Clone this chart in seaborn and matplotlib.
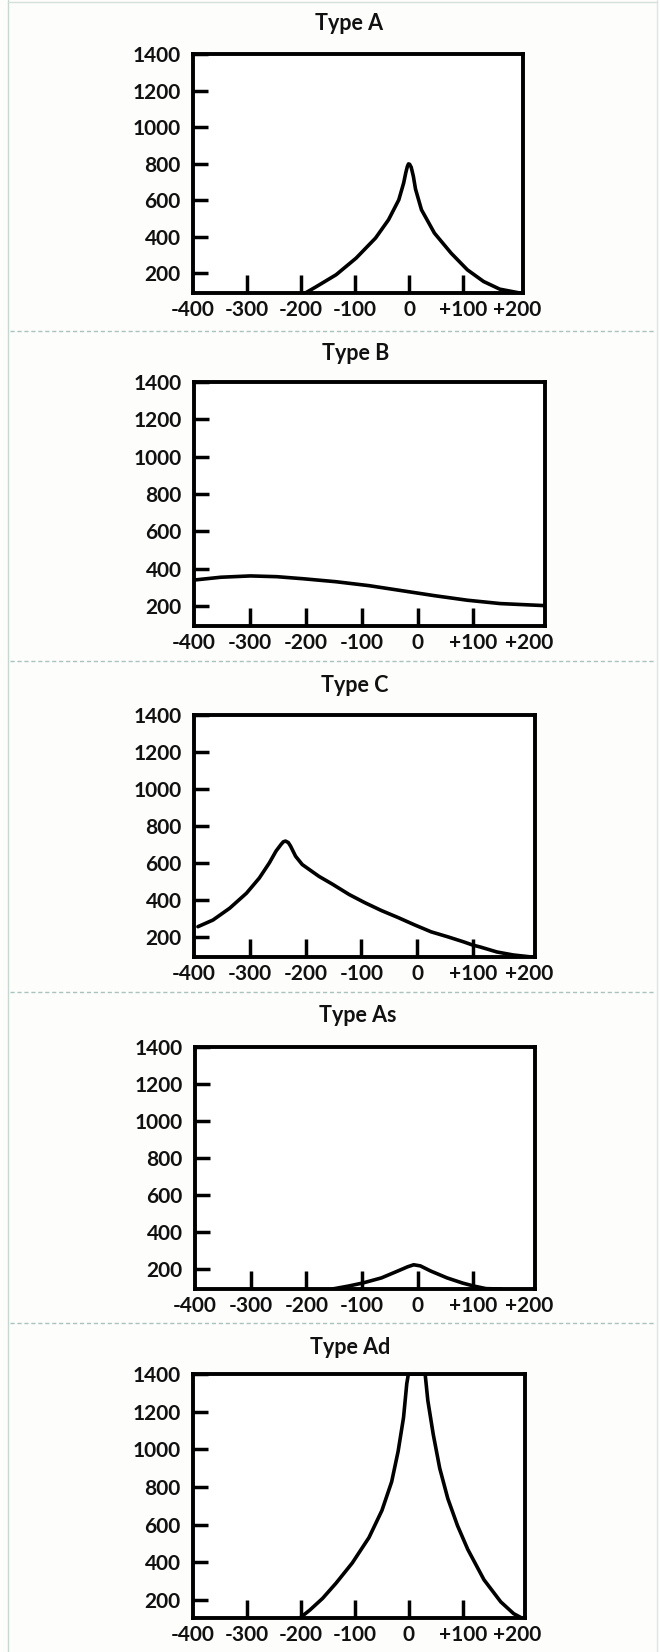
import matplotlib
matplotlib.use("Agg")
import matplotlib.pyplot as plt
import pandas as pd
import seaborn as sns
from matplotlib.ticker import FixedLocator, FixedFormatter, NullFormatter
from matplotlib.lines import Line2D

sns.set_theme(style="white")
plt.rcParams["font.family"] = ["Lato", "DejaVu Sans"]

# Tympanogram types: ear-canal pressure (daPa) vs compliance
type_names = ["Type A", "Type B", "Type C", "Type As", "Type Ad"]

pressure_labels = ["-400", "-300", "-200", "-100", "0", "+100", "+200"]
pressure_values = [-400, -300, -200, -100, 0, 100, 200]
pressure_marks = [-300, -200, -100, 0, 100]
compliance_values = [200, 400, 600, 800, 1000, 1200, 1400]

a_pressure = [-192, -171, -135, -98, -62, -38, -19, -10, -6, -3, -1, 1, 4, 8, 12, 23, 47, 78, 108, 138, 168, 205]
a_compliance = [91, 127, 191, 282, 392, 492, 601, 693, 750, 785, 798, 796, 780, 730, 660, 547, 419, 309, 218, 154, 112, 91]

b_pressure = [-400, -352, -299, -252, -205, -146, -87, -28, 31, 89, 148, 228]
b_compliance = [340, 355, 362, 358, 347, 331, 310, 283, 256, 232, 214, 203]

c_pressure = [-393, -366, -336, -306, -283, -265, -253, -244, -240, -236, -231, -227, -218, -206, -176,
              -152, -122, -94, -64, -34, -5, 25, 55, 83, 99, 113, 143, 172, 205]
c_compliance = [255, 291, 355, 436, 518, 600, 664, 700, 714, 718, 710, 691, 636, 591, 527,
                485, 429, 385, 342, 304, 265, 227, 200, 173, 156, 145, 118, 102, 91]

as_pressure = [-153, -124, -99, -65, -35, -18, -7, 5, 23, 53, 81, 101, 123, 150]
as_compliance = [91, 107, 123, 151, 189, 211, 222, 216, 189, 151, 123, 107, 93, 91]

ad_pressure = [-202, -184, -160, -135, -105, -74, -50, -32, -20, -10, -4, -1,
               30, 35, 45, 57, 72, 90, 109, 139, 170, 194, 209]
ad_compliance = [105, 146, 209, 290, 397, 532, 676, 828, 990, 1169, 1349, 1400,
                 1400, 1259, 1080, 900, 739, 595, 469, 308, 191, 128, 105]

curves = [
    (a_pressure, a_compliance),
    (b_pressure, b_compliance),
    (c_pressure, c_compliance),
    (as_pressure, as_compliance),
    (ad_pressure, ad_compliance),
]

# panel geometry in pixels: left, right, top, bottom
W, H = 660, 1652
boxes = [
    (193, 523, 54, 293),
    (194, 545, 382, 626),
    (194, 535, 715, 957),
    (195, 535, 1047, 1289),
    (193, 525, 1374, 1618),
]
x_limits = [(-400, 211), (-400, 228), (-400, 211), (-400, 211), (-400, 215)]
y_limits = [(91, 1400), (94, 1400), (91, 1400), (91, 1400), (105, 1400)]
title_pos = [(349, 30), (356, 360), (355, 692), (358, 1022), (350, 1354)]
separators = [331, 661, 992, 1323]

fig = plt.figure(figsize=(W / 100, H / 100), dpi=100, facecolor="#fdfdfc")

for i, name in enumerate(type_names):
    l, r, t, b = boxes[i]
    ax = fig.add_axes([l / W, 1 - b / H, (r - l) / W, (b - t) / H])
    ax.set_facecolor("white")
    px, cy = curves[i]
    df = pd.DataFrame({"pressure": px, "compliance": cy})
    sns.lineplot(data=df, x="pressure", y="compliance", ax=ax, color="black",
                 linewidth=2.6, sort=False, estimator=None,
                 solid_joinstyle="round", solid_capstyle="round")
    ax.set_xlim(*x_limits[i])
    ax.set_ylim(*y_limits[i])
    ax.set_xlabel("")
    ax.set_ylabel("")

    for sp in ax.spines.values():
        sp.set_visible(True)
        sp.set_color("black")
        sp.set_linewidth(2.8)

    # x: labels at every 100 daPa, inward marks only inside the box
    ax.xaxis.remove_overlapping_locs = False
    ax.xaxis.set_major_locator(FixedLocator(pressure_values))
    ax.xaxis.set_major_formatter(FixedFormatter(pressure_labels))
    ax.xaxis.set_minor_locator(FixedLocator(pressure_marks))
    ax.xaxis.set_minor_formatter(NullFormatter())
    ax.tick_params(axis="x", which="major", length=0, pad=5,
                   labelsize=15, labelcolor="#111111")
    ax.tick_params(axis="x", which="minor", direction="in", length=13,
                   width=2.5, color="black", bottom=True, top=False)

    # y: inward marks with labels on the left
    ax.yaxis.set_major_locator(FixedLocator(compliance_values))
    ax.set_yticklabels([str(v) for v in compliance_values])
    ax.tick_params(axis="y", which="major", direction="in", length=11,
                   width=2.5, color="black", left=True, pad=9,
                   labelsize=15, labelcolor="#111111")
    for lab in ax.get_xticklabels() + ax.get_yticklabels():
        lab.set_fontweight("bold")

    tx, ty = title_pos[i]
    fig.text(tx / W, 1 - ty / H, name, ha="center", va="baseline",
             fontsize=15.5, fontweight="bold", color="#111111")

# dashed separators between panels
for y in separators:
    fig.add_artist(Line2D([10 / W, 655 / W], [1 - y / H, 1 - y / H],
                          color="#a9c4bd", linewidth=1.0, linestyle=(0, (3, 2))))

# light page border
fig.add_artist(Line2D([8 / W, 8 / W], [0, 1], color="#c5d8d2", linewidth=1.0))
fig.add_artist(Line2D([657 / W, 657 / W], [0, 1], color="#dde6e3", linewidth=1.0))
fig.add_artist(Line2D([8 / W, 657 / W], [1 - 2 / H, 1 - 2 / H], color="#d5dfdc", linewidth=1.0))

fig.savefig("out.png", dpi=100, facecolor=fig.get_facecolor())
